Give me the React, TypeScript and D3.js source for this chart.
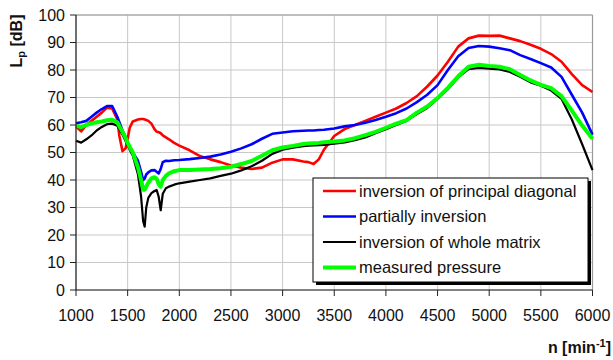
import React from 'react'
import { scaleLinear, line } from 'd3'

// engine speed grid [min^-1]
const rpm = [1000, 1050, 1100, 1150, 1200, 1250, 1300, 1350, 1400, 1420, 1450, 1480, 1500, 1520, 1550, 1600, 1630, 1650, 1665, 1680, 1700, 1730, 1760, 1780, 1800, 1820, 1840, 1870, 1900, 1950, 2000, 2100, 2200, 2300, 2400, 2500, 2600, 2700, 2800, 2900, 3000, 3100, 3200, 3250, 3300, 3350, 3400, 3500, 3600, 3700, 3800, 3900, 4000, 4100, 4200, 4300, 4400, 4500, 4600, 4700, 4800, 4900, 5000, 5100, 5200, 5300, 5400, 5500, 5600, 5700, 5800, 5900, 6000]

const principalDiag = [59.4, 57.7, 60, 61.5, 63, 64.5, 66.3, 66, 62, 56, 50.5, 51.5, 55, 59, 61.3, 62, 62.2, 62.2, 62, 61.8, 61.5, 60.5, 58.5, 57.6, 57.4, 57, 56.2, 55.5, 54.8, 53.5, 52.5, 50.8, 48.7, 47.5, 46.5, 45.3, 44.5, 44, 44.5, 46.3, 47.5, 47.5, 46.7, 46.5, 45.8, 47.5, 51, 56, 58.5, 60, 61.5, 63, 64.5, 66, 68, 70.5, 74, 78, 83, 88.5, 91.5, 92.5, 92.4, 92.5, 91.5, 90.5, 89.2, 87.7, 85.8, 83, 78.5, 74.5, 72]
const partialInv = [60.6, 61, 61.5, 63, 64.5, 65.8, 66.9, 66.9, 63, 61, 58, 55.5, 53.5, 52, 50, 47, 43, 40, 40.5, 42, 42.8, 43.5, 43.6, 43, 42.4, 44, 46.5, 47, 46.9, 47.2, 47.3, 47.6, 48, 48.5, 49.3, 50.3, 51.5, 53, 55, 56.8, 57.3, 57.7, 57.9, 58, 58, 58.2, 58.3, 58.7, 59.5, 60, 60.8, 61.8, 63, 64.3, 66, 68.3, 71, 74.5, 80, 85, 88, 88.7, 88.5, 87.9, 87.2, 85.4, 84, 82.5, 80.9, 77.5, 71, 64.5, 56.5]
const wholeMatrix = [54.3, 53.6, 54.8, 56.2, 58, 59.3, 60.3, 60.5, 59.7, 58.5, 56.5, 54.2, 52.5, 51, 48.8, 42, 34, 25, 23, 30, 33.5, 35.2, 36, 36.4, 34, 29, 35, 37, 37.6, 38.3, 38.8, 39.4, 40, 40.6, 41.5, 42.3, 43.5, 45, 47, 49.5, 51, 51.8, 52.3, 52.5, 52.6, 52.7, 52.8, 53.2, 53.7, 54.5, 55.5, 57, 58.5, 60, 61.5, 64, 66.2, 69.5, 73, 77.3, 80.3, 80.8, 80.5, 80.2, 79.3, 77.5, 75.5, 74.3, 72.5, 69.5, 62, 53, 43.6]
const measured = [59.8, 59.2, 60, 60.6, 61, 61.3, 61.7, 61.9, 61, 59.5, 57.5, 55.3, 53.5, 52, 50, 44.5, 40, 36.5, 36.5, 37.6, 39, 40.6, 41, 40.5, 38.5, 37.6, 40, 41.5, 42.4, 43.2, 43.6, 43.6, 43.8, 44, 44.3, 44.8, 45.8, 46.9, 48.8, 50.8, 51.8, 52.4, 53.1, 53.3, 53.4, 53.5, 53.7, 54, 54.4, 55.2, 56.3, 57.5, 59, 60.5, 61.8, 64.5, 66.7, 69.8, 73.5, 77.7, 81.2, 81.9, 81.5, 81.2, 80.3, 78.2, 76.2, 74.6, 73.4, 70.5, 65.2, 59.8, 55]

const xTicks = [1000, 1500, 2000, 2500, 3000, 3500, 4000, 4500, 5000, 5500, 6000]
const yTicks = [0, 10, 20, 30, 40, 50, 60, 70, 80, 90, 100]

const seriesNames = ['inversion of principal diagonal', 'partially inversion', 'inversion of whole matrix', 'measured pressure']
const seriesColors = ['#ff0000', '#0000ff', '#000000', '#00ff00']
const seriesWidths = [2.6, 2.6, 2.2, 4]
const seriesData = [principalDiag, partialInv, wholeMatrix, measured]

const W = 613, H = 360
const left = 76, right = 592.5, top = 15, bottom = 290
const font = "'Liberation Sans', Arial, sans-serif"

export default function App() {
  const x = scaleLinear().domain([1000, 6000]).range([left, right])
  const y = scaleLinear().domain([0, 100]).range([bottom, top])

  const lineGen = line<number>()
    .x((d, i) => x(rpm[i]))
    .y(d => y(d))

  // legend box
  const lx = 313, ly = 178, lw = 275, lh = 104

  return (
    <svg width={W} height={H} style={{ position: 'absolute', left: 0, top: 0 }} fontFamily={font}>
      <rect x={0} y={0} width={W} height={H} fill="#fff" />
      {/* grid */}
      {yTicks.map(t => (
        <line key={'gy' + t} x1={left} x2={right} y1={y(t)} y2={y(t)} stroke="#c8c8c8" strokeWidth={1} />
      ))}
      {xTicks.map(t => (
        <line key={'gx' + t} x1={x(t)} x2={x(t)} y1={top} y2={bottom} stroke="#c8c8c8" strokeWidth={1} />
      ))}
      {/* frame */}
      <line x1={left} x2={right} y1={top} y2={top} stroke="#999" strokeWidth={1.2} />
      <line x1={right} x2={right} y1={top} y2={bottom} stroke="#999" strokeWidth={1.2} />

      {/* series */}
      {seriesData.map((s, i) => (
        <path key={'s' + i} d={lineGen(s) || ''} fill="none" stroke={seriesColors[i]}
          strokeWidth={seriesWidths[i]} strokeLinejoin="round" />
      ))}

      {/* axes */}
      <line x1={left} x2={left} y1={top} y2={bottom} stroke="#222" strokeWidth={1.2} />
      <line x1={left} x2={right} y1={bottom} y2={bottom} stroke="#222" strokeWidth={1.2} />
      {yTicks.map(t => (
        <g key={'ty' + t}>
          <line x1={left - 6} x2={left} y1={y(t)} y2={y(t)} stroke="#222" />
          <text x={65} y={y(t)} dy="0.36em" textAnchor="end" fontSize={16} fill="#111">{t}</text>
        </g>
      ))}
      {xTicks.map(t => (
        <g key={'tx' + t}>
          <line x1={x(t)} x2={x(t)} y1={bottom} y2={bottom + 6} stroke="#222" />
          <text x={x(t)} y={315} dy="0.36em" textAnchor="middle" fontSize={16} fill="#111">{t}</text>
        </g>
      ))}

      {/* axis titles */}
      <text transform="translate(22,41) rotate(-90)" textAnchor="middle" fontSize={16} fontWeight="bold" fill="#111">
        L<tspan fontSize={11} dy="3">p</tspan><tspan dy="-3"> [dB]</tspan>
      </text>
      <text x={611} y={353} textAnchor="end" fontSize={16} fontWeight="bold" fill="#111">
        n [min<tspan fontSize={11} dy="-6">-1</tspan><tspan dy="6">]</tspan>
      </text>

      {/* legend */}
      <rect x={lx + 3} y={ly + 3} width={lw} height={lh} fill="#000" />
      <rect x={lx} y={ly} width={lw} height={lh} fill="#fff" stroke="#000" strokeWidth={1} />
      {seriesNames.map((name, i) => {
        const yy = 191 + i * 25.5
        return (
          <g key={'lg' + i}>
            <line x1={323} x2={356} y1={yy} y2={yy} stroke={seriesColors[i]} strokeWidth={seriesWidths[i]} />
            <text x={359} y={yy} dy="0.36em" fontSize={16.5} fill="#111">{name}</text>
          </g>
        )
      })}
    </svg>
  )
}
